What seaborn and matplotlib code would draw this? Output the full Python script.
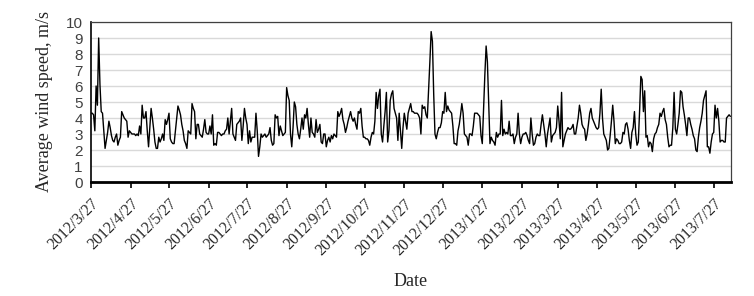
import numpy as np
import pandas as pd
import seaborn as sns
import matplotlib
matplotlib.use("Agg")
import matplotlib.pyplot as plt
import matplotlib.dates as mdates
from matplotlib.ticker import FuncFormatter, MultipleLocator

# daily average wind speed (m/s), starting 2012/3/27
speed_mar_aug_2012 = [
    4.3, 4.3, 4.2, 3.2, 6.0, 4.8, 9.0, 6.1, 4.4, 4.3,
    3.2, 2.1, 2.6, 3.1, 3.8, 3.4, 2.9, 2.6, 2.5, 2.8,
    3.0, 2.3, 2.6, 2.8, 4.4, 4.2, 4.0, 3.9, 3.8, 2.8,
    3.2, 3.1, 3.0, 3.0, 3.0, 2.9, 3.0, 2.9, 3.5, 3.0,
    4.8, 4.0, 4.0, 4.4, 3.2, 2.2, 3.4, 4.6, 4.0, 3.3,
    2.5, 2.1, 2.1, 2.8, 2.5, 2.7, 3.0, 2.6, 3.9, 3.6,
    3.9, 4.3, 2.7, 2.5, 2.4, 2.4, 3.2, 4.0, 4.75, 4.5,
    4.2, 3.6, 3.2, 2.6, 2.4, 2.1, 3.2, 3.1, 3.0, 4.9,
    4.6, 4.4, 2.7, 3.6, 3.6, 3.0, 2.9, 2.8, 3.3, 3.9,
    3.1, 3.0, 3.0, 3.5, 3.0, 4.2, 2.3, 2.4, 2.3, 3.1,
    3.1, 3.0, 2.9, 3.0, 3.0, 3.2, 3.3, 4.0, 3.0, 3.8,
    4.6, 3.0, 2.8, 2.6, 3.6, 3.7, 3.8, 4.0, 2.6, 3.5,
    4.6, 4.0, 3.6, 2.4, 3.2, 2.5, 2.8, 2.8, 2.8, 4.3,
    3.2, 1.6,
]
speed_aug_dec_2012 = [
    2.2, 3.0, 2.8, 2.9, 3.0, 2.8, 2.9, 3.0, 3.4, 2.6,
    2.3, 2.4, 4.2, 4.0, 4.1, 2.9, 3.5, 3.2, 2.9, 3.0,
    3.1, 5.9, 5.4, 5.1, 3.0, 2.2, 3.4, 5.0, 4.7, 3.6,
    3.0, 2.7, 3.3, 4.0, 3.3, 4.2, 4.0, 4.6, 3.6, 2.8,
    4.0, 3.1, 3.0, 2.8, 3.9, 3.1, 3.3, 3.6, 2.5, 2.4,
    3.0, 3.0, 2.2, 2.6, 2.8, 2.5, 2.9, 2.7, 3.0, 2.9,
    2.8, 4.4, 4.1, 4.3, 4.6, 3.9, 3.6, 3.1, 3.4, 3.8,
    4.1, 4.4, 4.0, 3.8, 4.0, 3.6, 3.3, 4.4, 4.3, 4.6,
    3.5, 2.8, 2.8, 2.7, 2.7, 2.6, 2.3, 2.8, 3.1, 3.0,
    3.8, 5.6, 4.6, 5.4, 5.8, 3.0, 2.5, 3.5, 4.4, 5.6,
    2.5, 3.2, 5.1, 5.5, 5.7, 4.6, 4.3, 4.0, 2.6, 4.3,
    3.2, 2.1, 3.4, 4.3, 3.8, 3.3, 4.3, 4.6, 4.9, 4.4,
    4.4, 4.3, 4.3, 4.3, 4.2, 4.0, 3.0, 4.8, 4.6, 4.7,
    4.2, 4.0, 5.7, 7.5, 9.4, 8.8, 5.5, 3.0, 2.7, 3.1,
    3.4,
]
speed_dec_2012_may_2013 = [
    3.4, 3.7, 4.4, 4.3, 5.6, 4.4, 4.75, 4.5, 4.4, 4.3,
    3.5, 2.4, 2.4, 2.3, 3.2, 3.6, 4.2, 4.9, 4.3, 3.0,
    2.9, 2.8, 2.3, 3.0, 3.0, 2.9, 3.5, 4.3, 4.3, 4.3,
    4.2, 4.1, 2.9, 2.4, 4.5, 6.7, 8.5, 7.5, 4.9, 2.4,
    2.8, 2.6, 2.5, 2.3, 3.1, 2.8, 3.0, 3.0, 5.1, 2.9,
    3.3, 3.0, 3.1, 3.0, 3.8, 2.9, 2.9, 3.0, 2.4, 2.8,
    3.0, 4.3, 3.0, 2.4, 2.8, 3.0, 3.0, 3.1, 2.9, 2.6,
    2.4, 4.0, 3.0, 2.3, 2.4, 2.8, 3.0, 2.9, 2.9, 3.6,
    4.2, 3.6, 3.0, 2.2, 3.0, 3.5, 4.0, 2.5, 2.9, 3.0,
    3.1, 3.4, 4.75, 3.8, 2.7, 5.6, 2.2, 2.6, 3.0, 3.2,
    3.4, 3.3, 3.3, 3.4, 3.6, 3.0, 3.0, 3.5, 4.0, 4.8,
    4.3, 3.6, 3.4, 3.3, 2.6, 3.0, 3.6, 4.3, 4.6, 4.0,
    3.8, 3.6, 3.4, 3.3, 3.4, 4.3, 5.8, 4.0, 3.0, 2.8,
    2.6, 2.0, 2.1, 2.9, 3.8, 4.8, 3.8, 2.4, 2.7, 2.6,
    2.4,
]
speed_may_aug_2013 = [
    2.4, 2.5, 3.1, 3.0, 3.6, 3.7, 3.3, 2.6, 2.1, 3.1,
    3.4, 4.4, 3.0, 2.3, 2.5, 4.4, 6.6, 6.4, 4.4, 5.7,
    2.8, 2.9, 2.2, 2.5, 2.4, 1.9, 2.7, 3.0, 3.1, 3.4,
    3.6, 4.3, 4.1, 4.4, 4.6, 3.9, 3.6, 2.8, 2.2, 2.3,
    2.3, 3.4, 5.6, 3.3, 3.0, 3.6, 4.3, 5.7, 5.6, 4.7,
    4.2, 3.6, 2.9, 4.0, 4.0, 3.6, 3.3, 2.9, 2.7, 2.0,
    1.9, 2.8, 3.4, 3.8, 4.3, 5.1, 5.4, 5.7, 2.2, 2.2,
    1.8, 2.5, 3.0, 3.1, 4.8, 4.0, 4.6, 3.8, 2.5, 2.6,
    2.6, 2.5, 2.5, 4.0, 4.1, 4.2, 4.1,
]

speed = speed_mar_aug_2012 + speed_aug_dec_2012 + speed_dec_2012_may_2013 + speed_may_aug_2013
dates = pd.date_range("2012-03-27", periods=len(speed), freq="D")
df = pd.DataFrame({"Date": dates, "Speed": speed})

sns.set_style("white")
plt.rcParams['font.family'] = ['Liberation Serif', 'DejaVu Serif']

fig = plt.figure(figsize=(7.54, 2.96), dpi=100)
ax = fig.add_axes([91 / 754, 1 - 182 / 296, 640 / 754, 160 / 296])

sns.lineplot(data=df, x="Date", y="Speed", color="black", linewidth=1.0, ax=ax)

ax.set_ylim(0, 10)
ax.set_xlim(dates[0], dates[-1] + pd.Timedelta(hours=12))
ax.yaxis.set_major_locator(MultipleLocator(1))
ax.grid(axis="y", color="#d9d9d9", linewidth=1.0)
ax.set_axisbelow(True)

ax.xaxis.set_major_locator(mdates.MonthLocator(bymonthday=27))
ax.xaxis.set_major_formatter(FuncFormatter(
    lambda v, pos: "{0.year}/{0.month}/{0.day}".format(mdates.num2date(v))))
ax.tick_params(axis="x", which="major", direction="out", length=4, width=1.2,
               color="black", bottom=True, labelsize=11.5, pad=6)
ax.tick_params(axis="y", length=0, labelsize=11, labelcolor="#404040", pad=6)
for lbl in ax.get_xticklabels():
    lbl.set_rotation(45)
    lbl.set_ha("right")
    lbl.set_rotation_mode("anchor")
for lbl in ax.get_yticklabels():
    lbl.set_family(["Liberation Sans", "DejaVu Sans"])

for side in ["top", "right"]:
    ax.spines[side].set_color("#404040")
    ax.spines[side].set_linewidth(0.9)
ax.spines["left"].set_color("black")
ax.spines["left"].set_linewidth(1.2)
ax.spines["bottom"].set_color("black")
ax.spines["bottom"].set_linewidth(2.0)

ax.set_xlabel("Date", fontsize=13)
ax.set_ylabel("Average wind speed, m/s", fontsize=13)
ax.xaxis.set_label_coords(0.5, -0.57)
ax.yaxis.set_label_coords(-0.06, 0.5)

fig.savefig("out.png", dpi=100)
